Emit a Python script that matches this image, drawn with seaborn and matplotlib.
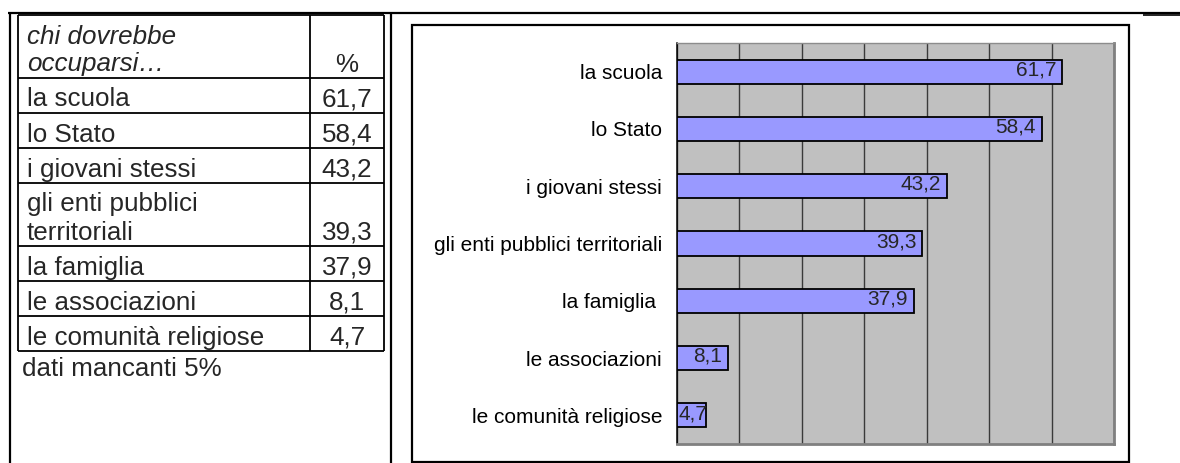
import matplotlib
matplotlib.use("Agg")
import matplotlib.pyplot as plt
from matplotlib.patches import Rectangle
import numpy as np
import pandas as pd
import seaborn as sns

# --- data -------------------------------------------------------------
categories = [
    "la scuola",
    "lo Stato",
    "i giovani stessi",
    "gli enti pubblici territoriali",
    "la famiglia ",
    "le associazioni",
    "le comunità religiose",
]
table_labels = [
    "la scuola",
    "lo Stato",
    "i giovani stessi",
    "gli enti pubblici\nterritoriali",
    "la famiglia",
    "le associazioni",
    "le comunità religiose",
]
percentages = [61.7, 58.4, 43.2, 39.3, 37.9, 8.1, 4.7]
header_label = "chi dovrebbe\noccuparsi…"
header_value = "%"
note = "dati mancanti 5%"


def fmt(v):
    return f"{v:.1f}".replace(".", ",")


sns.set_style("white")
plt.rcParams["font.family"] = ["Liberation Sans", "DejaVu Sans"]

W, H = 1180, 463
fig = plt.figure(figsize=(W / 100, H / 100), dpi=100)

# page layer, in pixel coordinates (y downwards)
page = fig.add_axes([0, 0, 1, 1])
page.set_xlim(0, W)
page.set_ylim(H, 0)
page.axis("off")

LINE = dict(color="black", solid_capstyle="butt", clip_on=False)

# outer frame of the page
page.plot([8, W], [13, 13], lw=1.6, **LINE)
page.plot([1143, W], [14.5, 14.5], lw=1.2, **LINE)
page.plot([10, 10], [12, H], lw=1.6, **LINE)
page.plot([391, 391], [12, H], lw=1.6, **LINE)

# --- table ------------------------------------------------------------
TFS = 18.7
t_left, t_div, t_right = 18, 310, 384
line_h = 28
rows = [(header_label, header_value, True)] + [
    (lab, fmt(v), False) for lab, v in zip(table_labels, percentages)
]
top = 15
bounds = [top]
for lab, val, _ in rows:
    n = lab.count("\n") + 1
    bounds.append(bounds[-1] + 7 + line_h * n)

for y in bounds:
    page.plot([t_left, t_right], [y, y], lw=1.3, **LINE)
for x in (t_left, t_div, t_right):
    page.plot([x, x], [bounds[0], bounds[-1]], lw=1.3, **LINE)

for (lab, val, is_head), y0, y1 in zip(rows, bounds[:-1], bounds[1:]):
    lines = lab.split("\n")
    base = y1 - 6.5
    for k, txt in enumerate(lines):
        yb = base - line_h * (len(lines) - 1 - k)
        page.text(27, yb, txt, fontsize=TFS, va="baseline", ha="left",
                  style="italic" if is_head else "normal")
    page.text((t_div + t_right) / 2, base, val, fontsize=TFS,
              va="baseline", ha="center")

page.text(22, 376, note, fontsize=TFS, va="baseline", ha="left")

# chart border
page.add_patch(Rectangle((412, 25), 1129 - 412, 462 - 25, fill=False,
                         lw=1.6, ec="black", clip_on=False))

# --- bar chart --------------------------------------------------------
px_l, px_r, px_t, px_b = 677, 1114, 43, 444
ax = fig.add_axes([px_l / W, 1 - px_b / H, (px_r - px_l) / W, (px_b - px_t) / H])

df = pd.DataFrame({"categoria": categories, "percentuale": percentages})
sns.barplot(data=df, x="percentuale", y="categoria", orient="h",
            color="#9999FF", saturation=1, edgecolor="black", linewidth=1.3,
            width=0.42, ax=ax, zorder=3)

ax.set_facecolor("#C0C0C0")
ax.set_xlim(0, 70)
ax.set_ylim(len(categories) - 0.5, -0.5)
ax.set_xlabel("")
ax.set_ylabel("")
ax.set_xticks(np.arange(0, 71, 10))
ax.tick_params(axis="x", length=0, labelbottom=False)
ax.grid(axis="x", color="#3a3a3a", lw=1.0)
ax.grid(axis="y", visible=False)
ax.set_axisbelow(True)

ax.tick_params(axis="y", which="major", length=0, pad=10.8, labelsize=15,
               labelcolor="black")
ax.set_yticks(np.arange(-0.5, len(categories), 1), minor=True)
ax.tick_params(axis="y", which="minor", length=4.3, width=1.0,
               color="black", direction="out")

ax.spines["left"].set_color("black")
ax.spines["left"].set_linewidth(1.1)
ax.spines["top"].set_color("#8c8c8c")
ax.spines["top"].set_linewidth(1.0)
for s in ("right", "bottom"):
    ax.spines[s].set_color("#808080")
    ax.spines[s].set_linewidth(2.0)

for i, v in enumerate(percentages):
    if v > 6:
        ax.text(v - 0.9, i - 0.03, fmt(v), ha="right", va="center",
                fontsize=15, zorder=4)
    else:
        ax.text(0.25, i - 0.03, fmt(v), ha="left", va="center",
                fontsize=15, zorder=4)

fig.savefig("out.png", dpi=100)
